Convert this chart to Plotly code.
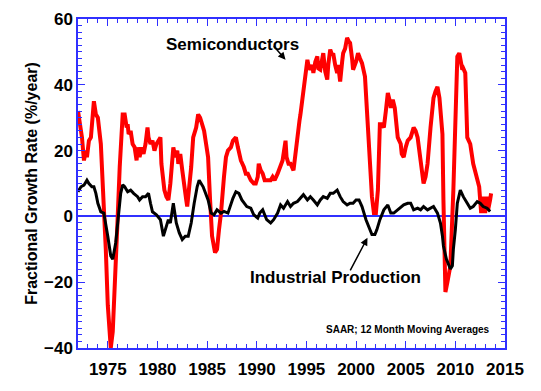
import plotly.graph_objects as go

semi_years = [1972.0, 1972.4, 1972.6, 1972.8, 1972.9, 1973.1, 1973.3, 1973.5, 1973.6, 1973.8,
              1974.0, 1974.3, 1974.5, 1974.8, 1975.0, 1975.2, 1975.3, 1975.5, 1975.7, 1976.0,
              1976.2, 1976.4, 1976.5, 1976.7, 1976.9, 1977.0, 1977.1, 1977.3, 1977.5, 1977.7,
              1977.9, 1978.0, 1978.2, 1978.4, 1978.6, 1978.8, 1979.0, 1979.1, 1979.3, 1979.5,
              1979.7, 1979.9, 1980.1, 1980.3, 1980.4, 1980.5, 1980.7, 1980.9, 1981.1, 1981.3,
              1981.5, 1981.6, 1981.8, 1982.0, 1982.1, 1982.3, 1982.5, 1982.7, 1982.9, 1983.0,
              1983.2, 1983.4, 1983.6, 1983.9, 1984.1, 1984.3, 1984.5, 1984.7, 1984.9, 1985.1,
              1985.3, 1985.5, 1985.8, 1986.0, 1986.2, 1986.4, 1986.7, 1986.9, 1987.1, 1987.4,
              1987.6, 1987.9, 1988.1, 1988.4, 1988.7, 1988.9, 1989.1, 1989.4, 1989.7, 1989.9,
              1990.1, 1990.2, 1990.4, 1990.6, 1990.8, 1991.1, 1991.4, 1991.6, 1991.8, 1992.1,
              1992.4, 1992.6, 1992.9, 1993.0, 1993.2, 1993.4, 1993.7, 1993.9, 1994.1, 1994.3,
              1994.4, 1994.7, 1994.9, 1995.1, 1995.2, 1995.4, 1995.6, 1995.7, 1995.9, 1996.1,
              1996.2, 1996.4, 1996.6, 1996.7, 1996.9, 1997.1, 1997.2, 1997.4, 1997.6, 1997.7,
              1997.9, 1998.1, 1998.2, 1998.4, 1998.6, 1998.7, 1998.9, 1999.1, 1999.3, 1999.4,
              1999.6, 1999.7, 2000.0, 2000.2, 2000.4, 2000.6, 2000.9, 2001.2, 2001.4, 2001.6,
              2001.8, 2002.0, 2002.2, 2002.4, 2002.6, 2002.8, 2003.0, 2003.2, 2003.4, 2003.5,
              2003.7, 2003.9, 2004.2, 2004.5, 2004.6, 2004.8, 2005.0, 2005.2, 2005.5, 2005.8,
              2006.0, 2006.2, 2006.5, 2006.7, 2006.8, 2007.0, 2007.2, 2007.5, 2007.8, 2008.0,
              2008.2, 2008.4, 2008.5, 2008.7, 2008.8, 2009.0, 2009.2, 2009.5, 2009.8, 2010.0,
              2010.1, 2010.2, 2010.4, 2010.5, 2010.7, 2010.8, 2011.0, 2011.2, 2011.4, 2011.5,
              2011.8, 2012.0, 2012.2, 2012.4, 2012.5, 2012.6, 2012.8, 2012.9, 2013.0, 2013.2,
              2013.3, 2013.5, 2013.6]
semi_values = [32, 24, 17, 20, 18, 23, 24, 33, 35, 31,
               30, 22, 10, -10, -27, -38, -40, -35, -18, 0,
               15, 28, 31, 31, 27, 28, 25, 26, 22, 21,
               17, 21, 18, 21, 19, 22, 27, 24, 22, 23,
               20, 22, 23, 24, 16, 13, 8, 6, 5, 10,
               17, 21, 18, 20, 16, 19, 14, 8, 5, 3,
               8, 15, 24, 27, 31, 30, 28, 26, 22, 18,
               5, -6, -11, -10, -4, 1, 12, 18, 20, 21,
               23, 24, 21, 17, 15, 13, 13, 11, 10, 10,
               12, 16, 14, 13, 11, 11, 11, 12, 11, 13,
               16, 17, 23, 18, 16, 16, 14, 20, 25, 29,
               31, 38, 44, 47.6, 46, 44.6, 46, 43.6, 47, 48.6,
               45, 44.6, 48, 49.6, 44, 41.6, 46, 50.7, 49, 49.6,
               46, 43.6, 46, 41, 47, 49.6, 51, 54.3, 53, 52.7,
               48, 44.6, 47, 49.6, 48, 46.6, 42.5, 28, 15, 6,
               1, 1, 8, 28, 28, 27, 32, 37.5, 35, 33,
               35.5, 33, 24, 22, 19, 18, 21, 23, 24, 27,
               26, 24, 17, 13, 10, 12, 16, 27, 36, 38,
               39.4, 36, 33, 25, 5, -23, -20, -15, 8, 30,
               41.5, 48.6, 49.6, 48, 44.6, 45, 43.6, 24, 23, 22,
               16, 14, 11, 9, 5, 1, 6, 3, 1, 6,
               2, 5, 7]

ip_years = [1972.0, 1972.3, 1972.6, 1972.9, 1973.1, 1973.4, 1973.6, 1973.8, 1974.0, 1974.3,
            1974.6, 1974.8, 1975.0, 1975.3, 1975.5, 1975.8, 1976.0, 1976.3, 1976.5, 1976.7,
            1977.0, 1977.3, 1977.6, 1978.0, 1978.2, 1978.5, 1978.8, 1979.1, 1979.3, 1979.5,
            1979.9, 1980.3, 1980.6, 1980.9, 1981.1, 1981.3, 1981.6, 1981.9, 1982.2, 1982.5,
            1982.8, 1983.1, 1983.4, 1983.7, 1984.0, 1984.2, 1984.6, 1985.1, 1985.4, 1985.7,
            1986.0, 1986.4, 1986.7, 1987.1, 1987.3, 1987.6, 1987.9, 1988.2, 1988.5, 1989.0,
            1989.4, 1989.7, 1990.1, 1990.3, 1990.6, 1991.0, 1991.4, 1991.7, 1992.1, 1992.4,
            1992.7, 1993.1, 1993.4, 1993.7, 1994.1, 1994.4, 1994.7, 1995.1, 1995.4, 1995.7,
            1996.1, 1996.4, 1996.7, 1997.1, 1997.4, 1997.7, 1998.1, 1998.4, 1998.7, 1999.1,
            1999.4, 1999.7, 2000.0, 2000.3, 2000.6, 2001.0, 2001.3, 2001.6, 2001.9, 2002.1,
            2002.4, 2002.8, 2003.2, 2003.5, 2003.8, 2004.2, 2004.5, 2004.8, 2005.2, 2005.5,
            2005.8, 2006.2, 2006.5, 2006.8, 2007.2, 2007.5, 2007.8, 2008.2, 2008.5, 2008.7,
            2008.8, 2009.1, 2009.5, 2009.7, 2009.8, 2010.0, 2010.2, 2010.5, 2010.8, 2011.2,
            2011.5, 2011.8, 2012.2, 2012.5, 2012.8, 2013.2, 2013.5]
ip_values = [7.5, 9, 9.5, 11, 10, 9, 9, 7, 4, 1.4,
             1, -2, -6, -12, -13, -8, -2, 7, 9.6, 9,
             7.5, 8, 7, 6, 5, 6, 6, 7, 4, 1.4,
             0.5, -1, -6, -3, -1, -2, 4, -2, -5, -7,
             -6, -6, -2, 4, 9, 11, 9, 5, 1, 0.5,
             2, 1, 1.5, 1, 3, 5.5, 7.5, 7, 5, 3,
             2.5, 0.5, -0.5, 1, 2, -1, -2, -1, 1, 3.5,
             2.5, 4.5, 3, 4, 4.5, 5.6, 6.6, 5, 6, 5,
             3.5, 5, 6, 5.5, 7, 7, 8, 6, 4.5, 3.5,
             4, 4, 5, 5, 3, -1, -3.5, -5.5, -5.5, -4,
             -1, 2, 3.5, 1, 1, 2, 3, 3.5, 4, 4,
             2, 2.5, 2, 3, 2, 2.5, 3, 1, -2, -6,
             -9, -13, -16, -15, -10, -4, 4, 8, 6, 4,
             2.5, 3, 4.5, 4, 3, 2.5, 1.5]

x_tick_labels = ["1975", "1980", "1985", "1990", "1995", "2000", "2005", "2010", "2015"]
x_tick_values = [1975, 1980, 1985, 1990, 1995, 2000, 2005, 2010, 2015]
y_tick_values = [-40, -20, 0, 20, 40, 60]

BLUE = "#3030ff"
FONT = "Liberation Sans"

fig = go.Figure()
fig.add_trace(go.Scatter(x=semi_years, y=semi_values, mode="lines",
                         line=dict(color="#ff0000", width=4), showlegend=False))
fig.add_trace(go.Scatter(x=ip_years, y=ip_values, mode="lines",
                         line=dict(color="#000000", width=3), showlegend=False))

# page body has an 8px margin, so the figure is 8px smaller and offset
fig.update_layout(
    width=533, height=383,
    margin=dict(l=70, r=36, t=11, b=43, autoexpand=False),
    paper_bgcolor="white", plot_bgcolor="white",
    font=dict(family=FONT, color="black"),
    xaxis=dict(range=[1972, 2015], tickvals=x_tick_values, ticktext=x_tick_labels,
               automargin=False, ticklabelstandoff=5,
               ticks="inside", ticklen=7, tickwidth=1.2, tickcolor=BLUE,
               showline=True, linecolor=BLUE, linewidth=1.5, mirror="allticks",
               showgrid=False, zeroline=False,
               tickfont=dict(family=FONT, size=17, color="black", weight="bold"),
               minor=dict(dtick=1, tick0=1972, ticks="inside", ticklen=4, tickcolor=BLUE, tickwidth=1.2)),
    yaxis=dict(range=[-40, 60], tickvals=y_tick_values,
               automargin=False,
               ticks="inside", ticklen=7, tickwidth=1.2, tickcolor=BLUE,
               showline=True, linecolor=BLUE, linewidth=1.5, mirror="allticks",
               showgrid=False, zeroline=True, zerolinecolor=BLUE, zerolinewidth=1.5,
               tickfont=dict(family=FONT, size=17, color="black", weight="bold"),
               title=dict(text="Fractional Growth Rate (%/year)",
                          font=dict(family=FONT, size=16, color="black", weight="bold"),
                          standoff=2),
               minor=dict(dtick=2, tick0=0, ticks="inside", ticklen=4, tickcolor=BLUE, tickwidth=1.2)),
)

fig.add_annotation(text="<b>Semiconductors</b>", xref="paper", yref="paper",
                   x=0.361, y=0.957, showarrow=False,
                   font=dict(family=FONT, size=17, color="black"))
fig.add_annotation(x=1992.9, y=47.6, xref="x", yref="y", text="", showarrow=True,
                   ax=-13, ay=-15, arrowhead=2, arrowsize=1, arrowwidth=1.5, arrowcolor="black")
fig.add_annotation(text="<b>Industrial Production</b>", xref="paper", yref="paper",
                   x=0.602, y=0.179, showarrow=False,
                   font=dict(family=FONT, size=17, color="black"))
fig.add_annotation(x=2001.15, y=-6.5, xref="x", yref="y", text="", showarrow=True,
                   ax=-18, ay=34, arrowhead=2, arrowsize=1, arrowwidth=1.5, arrowcolor="black")
fig.add_annotation(text="<b>SAAR; 12 Month Moving Averages</b>", xref="paper", yref="paper",
                   x=0.97, y=0.033, xanchor="right", showarrow=False,
                   font=dict(family=FONT, size=10, color="black"))

fig.write_html("out.html")
